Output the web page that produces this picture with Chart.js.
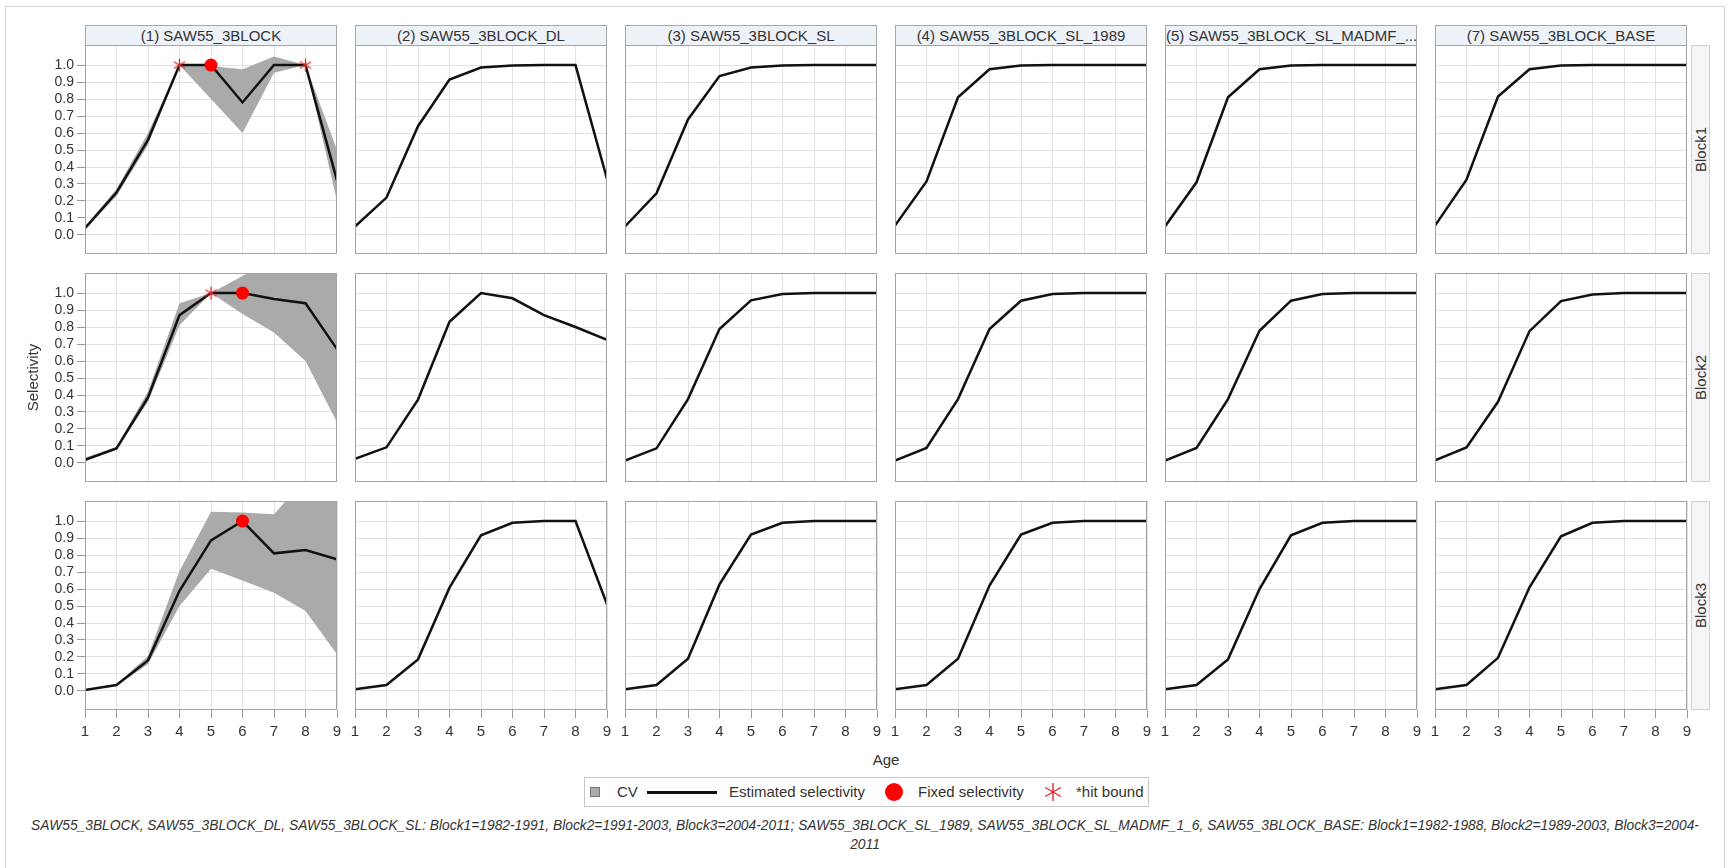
<!DOCTYPE html>
<html>
<head>
<meta charset="utf-8">
<script src="https://cdn.jsdelivr.net/npm/chart.js@4.4.1/dist/chart.umd.min.js"></script>
<style>
  body { margin: 0; background: #fff; font-family: "Liberation Sans", Arial, sans-serif; color: #333; }
  #page { position: relative; width: 1730px; height: 868px; overflow: hidden; }
  #border { position: absolute; left: 5px; top: 6px; width: 1718px; height: 870px; border: 1px solid #d6d6d6; }
  .cell { position: absolute; }
  .hdr { position: absolute; box-sizing: border-box; height: 21px; background: #edf1f8; border: 1px solid #a8a8a8;
         font-size: 15px; line-height: 19px; text-align: center; white-space: nowrap; overflow: hidden; }
  .strip { position: absolute; box-sizing: border-box; width: 19px; background: #f5f5f8; border: 1px solid #d2d2d6;
           display: flex; align-items: center; justify-content: center; }
  .strip span { writing-mode: vertical-rl; transform: rotate(180deg); font-size: 15px; }
  #age { position: absolute; left: 786px; width: 200px; top: 751px; text-align: center; font-size: 15px; }
  #legend { position: absolute; left: 584px; top: 777px; width: 565px; height: 30px; box-sizing: border-box; border: 1px solid #c8c8c8; }
  #legend .it { position: absolute; top: 0; height: 28px; line-height: 28px; font-size: 15px; white-space: nowrap; }
  #note { position: absolute; left: 0; width: 1730px; top: 816px; text-align: center; font-size: 13.8px; font-style: italic; line-height: 19px; white-space: nowrap; }
</style>
</head>
<body>
<div id="page">
  <div id="border"></div>
  <div id="age">Age</div>
  <div id="legend">
    <div class="it" style="left:5px;top:9px;width:10px;height:10px;box-sizing:border-box;background:#aaa;border:1px solid #777"></div>
    <div class="it" style="left:32px">CV</div>
    <div class="it" style="left:62px;top:13px;width:70px;height:2.5px;background:#111"></div>
    <div class="it" style="left:144px">Estimated selectivity</div>
    <div class="it" style="left:300px;top:5px;width:18px;height:18px;border-radius:50%;background:#ff0000"></div>
    <div class="it" style="left:333px">Fixed selectivity</div>
    <div class="it" id="legStar" style="left:458px;top:4px;height:20px;line-height:0"></div>
    <div class="it" style="left:491px">*hit bound</div>
  </div>
  <div id="note">SAW55_3BLOCK, SAW55_3BLOCK_DL, SAW55_3BLOCK_SL: Block1=1982-1991, Block2=1991-2003, Block3=2004-2011; SAW55_3BLOCK_SL_1989, SAW55_3BLOCK_SL_MADMF_1_6, SAW55_3BLOCK_BASE: Block1=1982-1988, Block2=1989-2003, Block3=2004-<br>2011</div>
</div>
<script>
// ages on the x axis, selectivity ticks on the y axis
const ages = [1, 2, 3, 4, 5, 6, 7, 8, 9];
const yTicks = [0.0, 0.1, 0.2, 0.3, 0.4, 0.5, 0.6, 0.7, 0.8, 0.9, 1.0];

const models = ["(1) SAW55_3BLOCK", "(2) SAW55_3BLOCK_DL", "(3) SAW55_3BLOCK_SL",
                "(4) SAW55_3BLOCK_SL_1989", "(5) SAW55_3BLOCK_SL_MADMF_...", "(7) SAW55_3BLOCK_BASE"];
const blocks = ["Block1", "Block2", "Block3"];

// estimated selectivity, one row per model
const estBlock1 = [
  [0.04, 0.25, 0.56, 1.0, 1.0, 0.78, 1.0, 1.0, 0.32],
  [0.05, 0.22, 0.64, 0.915, 0.985, 0.998, 1.0, 1.0, 0.33],
  [0.05, 0.245, 0.68, 0.935, 0.986, 0.998, 1.0, 1.0, 1.0],
  [0.055, 0.315, 0.81, 0.975, 0.998, 1.0, 1.0, 1.0, 1.0],
  [0.05, 0.31, 0.81, 0.975, 0.998, 1.0, 1.0, 1.0, 1.0],
  [0.055, 0.325, 0.815, 0.975, 0.998, 1.0, 1.0, 1.0, 1.0]
];
const estBlock2 = [
  [0.018, 0.086, 0.386, 0.87, 1.0, 1.0, 0.965, 0.94, 0.67],
  [0.024, 0.092, 0.373, 0.831, 1.0, 0.969, 0.87, 0.80, 0.725],
  [0.014, 0.086, 0.376, 0.788, 0.957, 0.994, 1.0, 1.0, 1.0],
  [0.014, 0.088, 0.376, 0.788, 0.955, 0.994, 1.0, 1.0, 1.0],
  [0.014, 0.088, 0.376, 0.778, 0.955, 0.994, 1.0, 1.0, 1.0],
  [0.016, 0.091, 0.36, 0.776, 0.953, 0.992, 1.0, 1.0, 1.0]
];
const estBlock3 = [
  [0.006, 0.035, 0.18, 0.59, 0.886, 1.0, 0.81, 0.83, 0.775],
  [0.01, 0.035, 0.186, 0.608, 0.916, 0.99, 1.0, 1.0, 0.51],
  [0.01, 0.035, 0.19, 0.627, 0.92, 0.99, 1.0, 1.0, 1.0],
  [0.01, 0.035, 0.19, 0.62, 0.92, 0.99, 1.0, 1.0, 1.0],
  [0.01, 0.035, 0.186, 0.6, 0.916, 0.99, 1.0, 1.0, 1.0],
  [0.01, 0.035, 0.195, 0.61, 0.91, 0.99, 1.0, 1.0, 1.0]
];
const estAll = [estBlock1, estBlock2, estBlock3];

// CV band, only model (1) has one
const cvLowBlock1  = [0.03, 0.23, 0.53, 1.0, 0.8, 0.6, 0.955, 1.0, 0.2];
const cvHighBlock1 = [0.05, 0.27, 0.6, 1.0, 0.995, 0.975, 1.05, 1.0, 0.5];
const cvLowBlock2  = [0.01, 0.08, 0.36, 0.81, 1.0, 0.876, 0.768, 0.6, 0.24];
const cvHighBlock2 = [0.03, 0.095, 0.42, 0.94, 1.0, 1.1, 1.2, 1.3, 1.2];
const cvLowBlock3  = [0.004, 0.03, 0.157, 0.5, 0.72, 0.65, 0.578, 0.47, 0.216];
const cvHighBlock3 = [0.01, 0.04, 0.206, 0.706, 1.055, 1.05, 1.04, 1.25, 1.3];
const cvLow = [cvLowBlock1, cvLowBlock2, cvLowBlock3];
const cvHigh = [cvHighBlock1, cvHighBlock2, cvHighBlock3];

// fixed selectivity and hit-bound points, model (1)
const fixedAges = [[5], [6], [6]];
const fixedSel  = [[1.0], [1.0], [1.0]];
const hitAges = [[4, 8], [5], []];
const hitSel  = [[1.0, 1.0], [1.0], []];

// layout of the panel grid
const colLeft = [85, 355, 625, 895, 1165, 1435];
const rowTop = [45, 273, 501];
const plotW = 252, plotH = 209;
const yPadL = 63, xPadB = 34, edgePad = 10;

Chart.defaults.font.family = '"Liberation Sans", Arial, sans-serif';
Chart.defaults.color = '#333';

function asterisk(size, color, lw) {
  const c = document.createElement('canvas');
  c.width = c.height = size;
  const g = c.getContext('2d');
  g.strokeStyle = color; g.lineWidth = lw;
  const m = size / 2, r = size / 2 - 1;
  [90, 30, 150].forEach(d => {
    const t = d * Math.PI / 180;
    g.beginPath();
    g.moveTo(m - r * Math.cos(t), m - r * Math.sin(t));
    g.lineTo(m + r * Math.cos(t), m + r * Math.sin(t));
    g.stroke();
  });
  return c;
}
const star = asterisk(15, '#e8262b', 1.3);
document.getElementById('legStar').appendChild(asterisk(20, '#e8262b', 1.4));

const framePlugin = {
  id: 'frame',
  afterDraw(chart) {
    const { ctx, chartArea: a } = chart;
    ctx.save();
    ctx.strokeStyle = '#a3a3a3';
    ctx.lineWidth = 1;
    ctx.strokeRect(a.left + 0.5, a.top + 0.5, a.right - a.left - 1, a.bottom - a.top - 1);
    ctx.restore();
  }
};

const pts = (xs, ys) => xs.map((x, i) => ({ x: x, y: ys[i] }));
const page = document.getElementById('page');

function makePanel(r, c) {
  const left = c === 0, bottom = r === 2;
  // bottom row needs room on both sides for the edge tick labels
  const padL = left ? yPadL : (bottom ? edgePad : 0);
  const padR = bottom ? edgePad : 0;
  const padB = bottom ? xPadB : 0;

  const div = document.createElement('div');
  div.className = 'cell';
  div.style.left = (colLeft[c] - padL) + 'px';
  div.style.top = rowTop[r] + 'px';
  const cv = document.createElement('canvas');
  cv.width = plotW + padL + padR;
  cv.height = plotH + padB;
  div.appendChild(cv);
  page.appendChild(div);

  const datasets = [];
  if (c === 0) {
    datasets.push({ data: pts(hitAges[r], hitSel[r]), showLine: false, pointStyle: star, pointRadius: 7, clip: false });
    datasets.push({ data: pts(fixedAges[r], fixedSel[r]), showLine: false, pointStyle: 'circle', pointRadius: 6.5,
                    backgroundColor: '#ff0000', borderColor: '#ff0000', borderWidth: 0, clip: false });
  }
  datasets.push({ data: pts(ages, estAll[r][c]), borderColor: '#111', borderWidth: 2.5, pointRadius: 0, fill: false, clip: 0 });
  if (c === 0) {
    datasets.push({ data: pts(ages, cvLow[r]), borderWidth: 0, pointRadius: 0, fill: false, clip: 0 });
    datasets.push({ data: pts(ages, cvHigh[r]), borderWidth: 0, pointRadius: 0, fill: '-1',
                    backgroundColor: '#aaaaaa', clip: 0 });
  }

  new Chart(cv, {
    type: 'line',
    data: { datasets: datasets },
    options: {
      responsive: false,
      animation: false,
      devicePixelRatio: 1,
      layout: { autoPadding: false, padding: { left: 0, top: 0, bottom: 0, right: padR } },
      plugins: { legend: { display: false }, tooltip: { enabled: false } },
      scales: {
        x: {
          type: 'linear', min: 1, max: 9,
          afterBuildTicks: s => { s.ticks = ages.map(v => ({ value: v })); },
          afterFit: s => { s.height = padB; s.paddingLeft = 0; s.paddingRight = 0; },
          border: { display: false },
          grid: { color: '#e2e2e2', drawTicks: bottom, tickLength: 8, tickColor: '#999' },
          ticks: { display: bottom, autoSkip: false, padding: 5, maxRotation: 0, font: { size: 15 } }
        },
        y: {
          type: 'linear', min: -0.112, max: 1.118,
          afterBuildTicks: s => { s.ticks = yTicks.map(v => ({ value: v })); },
          afterFit: s => { s.width = padL; s.paddingTop = 0; s.paddingBottom = 0; },
          border: { display: false },
          grid: { color: '#e2e2e2', drawTicks: left, tickLength: 8, tickColor: '#999' },
          ticks: { display: left, autoSkip: false, padding: 3, font: { size: 14 }, callback: v => v.toFixed(1) },
          title: { display: left && r === 1, text: 'Selectivity', font: { size: 15 }, padding: { top: 3, bottom: 0 } }
        }
      }
    },
    plugins: [framePlugin]
  });
}

for (let c = 0; c < models.length; c++) {
  const h = document.createElement('div');
  h.className = 'hdr';
  h.style.left = colLeft[c] + 'px';
  h.style.width = plotW + 'px';
  h.style.top = (rowTop[0] - 20) + 'px';
  h.textContent = models[c];
  page.appendChild(h);
}
for (let r = 0; r < blocks.length; r++) {
  const s = document.createElement('div');
  s.className = 'strip';
  s.style.left = '1691px';
  s.style.top = rowTop[r] + 'px';
  s.style.height = plotH + 'px';
  s.innerHTML = '<span>' + blocks[r] + '</span>';
  page.appendChild(s);
  for (let c = 0; c < models.length; c++) makePanel(r, c);
}
</script>
</body>
</html>
